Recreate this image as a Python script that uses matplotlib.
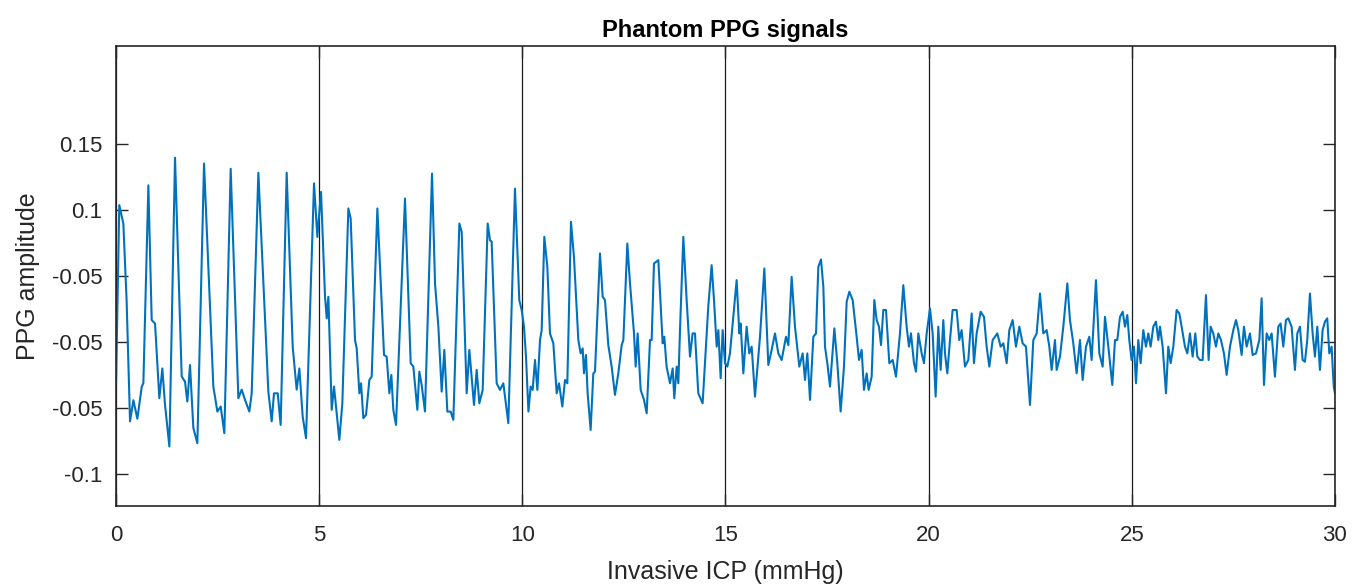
import numpy as np
import matplotlib
matplotlib.use('Agg')
import matplotlib.pyplot as plt

# plotting format standards
plt.rcParams['font.family'] = ['Liberation Sans', 'DejaVu Sans']
plt.rcParams['axes.linewidth'] = 1.0
plt.rcParams['xtick.labelsize'] = 16
plt.rcParams['ytick.labelsize'] = 16

# phantom PPG trace against invasive ICP
icp = [0.0, 0.08, 0.18, 0.26, 0.345, 0.427, 0.525, 0.632, 0.673, 0.796, 0.878, 0.96,
       1.066, 1.14, 1.206, 1.313, 1.452, 1.616, 1.698, 1.755, 1.821, 1.903, 2.002,
       2.166, 2.395, 2.494, 2.576, 2.666, 2.822, 3.011, 3.093, 3.175, 3.281, 3.339,
       3.503, 3.749, 3.831, 3.888, 3.979, 4.052, 4.2, 4.348, 4.446, 4.512, 4.594,
       4.676, 4.873, 4.955, 5.045, 5.144, 5.185, 5.226, 5.308, 5.365, 5.414, 5.496,
       5.57, 5.718, 5.775, 5.882, 5.923, 5.989, 6.03, 6.087, 6.153, 6.235, 6.292,
       6.432, 6.596, 6.661, 6.727, 6.776, 6.825, 6.891, 7.112, 7.252, 7.317, 7.416,
       7.465, 7.522, 7.604, 7.777, 7.851, 7.933, 8.015, 8.08, 8.154, 8.236, 8.302,
       8.45, 8.507, 8.63, 8.696, 8.81, 8.876, 8.942, 9.024, 9.147, 9.204, 9.245,
       9.368, 9.45, 9.532, 9.655, 9.819, 9.925, 9.985, 10.04, 10.09, 10.15, 10.205,
       10.254, 10.312, 10.37, 10.435, 10.476, 10.541, 10.615, 10.68, 10.763, 10.845,
       10.902, 10.984, 11.05, 11.107, 11.197, 11.27, 11.378, 11.435, 11.485, 11.517,
       11.566, 11.607, 11.681, 11.747, 11.788, 11.911, 11.977, 12.034, 12.116,
       12.198, 12.28, 12.362, 12.445, 12.486, 12.584, 12.65, 12.748, 12.789, 12.838,
       12.912, 12.994, 13.06, 13.142, 13.183, 13.24, 13.347, 13.453, 13.494, 13.55,
       13.634, 13.7, 13.74, 13.798, 13.839, 13.88, 13.962, 14.044, 14.126, 14.19,
       14.249, 14.33, 14.437, 14.576, 14.659, 14.717, 14.783, 14.824, 14.881, 14.93,
       14.988, 15.045, 15.11, 15.192, 15.274, 15.34, 15.373, 15.439, 15.52, 15.586,
       15.644, 15.726, 15.849, 15.956, 16.054, 16.136, 16.218, 16.3, 16.382, 16.489,
       16.546, 16.628, 16.71, 16.817, 16.899, 16.957, 17.014, 17.08, 17.162, 17.228,
       17.285, 17.35, 17.408, 17.449, 17.506, 17.572, 17.679, 17.752, 17.834, 17.916,
       17.982, 18.048, 18.13, 18.228, 18.286, 18.351, 18.408, 18.474, 18.523, 18.597,
       18.663, 18.72, 18.778, 18.827, 18.884, 18.95, 19.032, 19.114, 19.196, 19.294,
       19.376, 19.458, 19.516, 19.565, 19.639, 19.688, 19.746, 19.828, 19.885,
       19.951, 20.033, 20.098, 20.172, 20.238, 20.295, 20.361, 20.402, 20.459,
       20.525, 20.59, 20.689, 20.754, 20.812, 20.894, 20.976, 21.058, 21.115,
       21.181, 21.28, 21.362, 21.427, 21.493, 21.575, 21.69, 21.772, 21.838, 21.92,
       21.985, 22.067, 22.149, 22.231, 22.313, 22.395, 22.494, 22.576, 22.658,
       22.74, 22.822, 22.904, 22.97, 23.027, 23.109, 23.15, 23.232, 23.314, 23.413,
       23.478, 23.56, 23.642, 23.724, 23.79, 23.872, 23.954, 24.011, 24.118, 24.2,
       24.282, 24.34, 24.422, 24.52, 24.586, 24.643, 24.709, 24.775, 24.832, 24.889,
       24.938, 24.995, 25.053, 25.103, 25.16, 25.217, 25.283, 25.348, 25.406,
       25.463, 25.529, 25.595, 25.652, 25.693, 25.759, 25.841, 25.898, 25.956,
       26.021, 26.103, 26.169, 26.226, 26.308, 26.366, 26.431, 26.497, 26.563,
       26.612, 26.677, 26.743, 26.825, 26.89, 26.94, 27.005, 27.071, 27.129, 27.194,
       27.268, 27.334, 27.416, 27.498, 27.564, 27.621, 27.703, 27.76, 27.826,
       27.908, 27.974, 28.056, 28.138, 28.195, 28.253, 28.318, 28.384, 28.441,
       28.523, 28.605, 28.662, 28.728, 28.794, 28.851, 28.933, 29.015, 29.073,
       29.138, 29.204, 29.261, 29.318, 29.384, 29.45, 29.507, 29.565, 29.63, 29.696,
       29.753, 29.81, 29.86, 29.917, 29.97, 30.0]

ppg = [-0.032, 0.1035, 0.0896, 0.032, -0.06, -0.044, -0.058, -0.034, -0.031, 0.1185,
       0.0166, 0.014, -0.0425, -0.02, -0.0476, -0.079, 0.1394, -0.026, -0.03, -0.045,
       -0.0174, -0.065, -0.0765, 0.135, -0.0337, -0.0526, -0.0488, -0.069, 0.131,
       -0.0425, -0.036, -0.0438, -0.0526, -0.0388, 0.128, -0.0375, -0.06, -0.0388,
       -0.0388, -0.0627, 0.128, -0.0035, -0.036, -0.02, -0.0564, -0.0727, 0.12,
       0.0795, 0.1135, 0.0342, 0.0179, 0.0342, -0.0513, -0.0337, -0.0488, -0.074,
       -0.0463, 0.101, 0.0934, 0.0015, -0.0048, -0.0388, -0.0312, -0.0576, -0.0551,
       -0.0287, -0.0262, 0.101, -0.0098, -0.0111, -0.0388, -0.0249, -0.0513, -0.0627,
       0.1085, -0.0161, -0.0186, -0.0513, -0.0224, -0.0325, -0.0526, 0.1274, 0.0443,
       0.0116, -0.0375, -0.006, -0.0526, -0.0526, -0.0589, 0.0896, 0.0833, -0.0388,
       -0.006, -0.0476, -0.0211, -0.0463, -0.0362, 0.0896, 0.077, 0.0758, -0.0312,
       -0.0362, -0.0312, -0.0614, 0.116, 0.0317, 0.024, 0.0116, -0.011, -0.0526,
       -0.0337, -0.0362, -0.0136, -0.0362, 0.0015, 0.009, 0.0795, 0.0569, 0.0065,
       -0.001, -0.0388, -0.0312, -0.0488, -0.0287, -0.0312, 0.0909, 0.0644, 0.0015,
       -0.0086, -0.0048, -0.0237, -0.0098, -0.0388, -0.0665, -0.0237, -0.0224, 0.067,
       0.0342, 0.0317, -0.0023, -0.0186, -0.04, -0.0237, -0.0023, 0.0015, 0.0745,
       0.0443, 0.0065, -0.0186, 0.0065, -0.0362, -0.0438, -0.0539, 0.0015, 0.0015,
       0.0594, 0.0619, -0.001, 0.004, -0.0186, -0.0312, -0.02, -0.0425, -0.0186,
       -0.0312, 0.009, 0.0795, 0.0317, -0.011, 0.0065, 0.0065, -0.0388, -0.0463,
       0.0267, 0.0581, 0.0317, -0.0035, 0.009, -0.0274, 0.009, -0.016, -0.0186,
       -0.0086, 0.019, 0.0468, 0.0065, 0.014, -0.0237, 0.0116, -0.0086, -0.0035,
       -0.0413, 0.004, 0.0556, -0.0174, -0.006, 0.0065, -0.0086, -0.0136, 0.004,
       -0.0023, 0.0493, 0.0116, -0.0186, -0.0086, -0.0287, -0.0086, -0.0438, 0.004,
       0.0065, 0.0569, 0.0624, 0.0418, -0.0035, -0.016, -0.0337, 0.0103, -0.016,
       -0.0526, -0.0186, 0.0305, 0.038, 0.0317, 0.004, -0.0136, -0.006, -0.0362,
       -0.0237, -0.0362, -0.0262, 0.0317, 0.0166, 0.0116, -0.0023, 0.0242, 0.0242,
       -0.016, -0.0136, -0.0262, 0.0065, 0.043, 0.0116, -0.0035, 0.0065, -0.016,
       -0.0224, 0.0065, -0.0086, -0.016, 0.0065, 0.0254, 0.0065, -0.0413, 0.0116,
       -0.0211, 0.0166, -0.0086, -0.0237, 0.0015, 0.0242, 0.0242, 0.0015, 0.009,
       -0.0186, -0.0136, 0.0216, -0.016, 0.0065, 0.0229, 0.019, -0.0035, -0.0186,
       0.0015, 0.0065, -0.0035, -0.001, -0.016, 0.009, 0.0166, -0.0035, 0.0116,
       -0.001, -0.0035, -0.0476, 0.0015, 0.0065, 0.0367, 0.0065, 0.009, -0.0035,
       -0.0211, 0.0015, -0.0211, -0.011, 0.0116, 0.0443, 0.0166, -0.001, -0.0237,
       0.0015, -0.0287, -0.0035, 0.004, -0.0136, 0.0468, -0.0086, -0.0186, 0.019,
       -0.0035, -0.0325, 0.0015, 0.0015, 0.019, 0.0229, 0.0116, 0.0204, 0.0015,
       -0.0136, -0.0035, -0.0312, 0.0015, -0.016, 0.009, -0.0035, 0.0065, -0.0035,
       0.0116, 0.0154, 0.0015, 0.0116, -0.0035, -0.0388, -0.0035, -0.016, -0.0035,
       0.0242, 0.0216, 0.0116, -0.0035, -0.0086, 0.0065, -0.011, 0.0065, -0.011,
       -0.0136, -0.0136, 0.0355, -0.0136, 0.0116, 0.0065, -0.0035, 0.0065, 0.0015,
       -0.0086, -0.0249, -0.0035, 0.009, 0.0166, 0.009, -0.0098, 0.0116, -0.0035,
       0.0065, -0.0098, -0.0086, 0.0015, 0.033, -0.0325, 0.0065, 0.0015, 0.0065,
       -0.0262, 0.0116, 0.014, -0.0035, 0.0166, 0.0179, 0.0116, -0.0211, 0.0065,
       0.0116, -0.0136, -0.0149, 0.0015, 0.0367, 0.0065, -0.011, 0.0116, -0.0211,
       0.009, 0.0154, 0.0179, -0.0086, -0.0035, -0.0337, -0.0388]

xticks = [0, 5, 10, 15, 20, 25, 30]
yticks = [-0.1, -0.05, 0, 0.05, 0.1, 0.15]
ytick_labels = ['-0.1', '-0.05', '-0.05', '-0.05', '0.1', '0.15']

fig = plt.figure(figsize=(13.65, 5.87), dpi=100)
ax = fig.add_axes([0.085, 0.138, 0.893, 0.784])

ax.plot(icp, ppg, color='#0072BD', linewidth=1.5, solid_joinstyle='round')

ax.set_xlim(0, 30)
ax.set_ylim(-0.124, 0.224)
ax.set_xticks(xticks)
ax.set_yticks(yticks)
ax.set_yticklabels(ytick_labels)

# matlab style box with inward ticks and vertical grid only
for s in ax.spines.values():
    s.set_color('#262626')
    s.set_linewidth(1.2)
ax.tick_params(which='both', direction='in', top=True, right=True,
               length=8.5, width=1.0, colors='#262626', pad=10)
ax.tick_params(axis='x', pad=14)
ax.grid(True, axis='x', color='#1a1a1a', linewidth=0.9)

ax.set_xlabel('Invasive ICP (mmHg)', fontsize=18, color='#262626', labelpad=10)
ax.set_ylabel('PPG amplitude', fontsize=18, color='#262626', labelpad=8)
ax.set_title('Phantom PPG signals', fontsize=17, fontweight='bold', pad=6)

plt.savefig('out.png', dpi=100)
